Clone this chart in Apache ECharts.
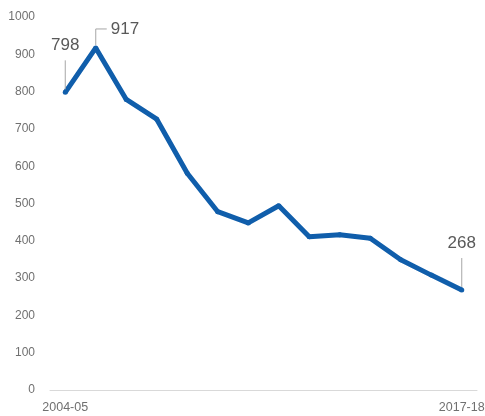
<!DOCTYPE html>
<html><head><meta charset="utf-8">
<script src="https://cdn.jsdelivr.net/npm/echarts@6/dist/echarts.min.js"></script>
<style>html,body{margin:0;padding:0;background:#fff}#c{width:485px;height:416px}</style>
</head><body><div id="c"></div>
<script>
var categories = ['2004-05','2005-06','2006-07','2007-08','2008-09','2009-10','2010-11','2011-12','2012-13','2013-14','2014-15','2015-16','2016-17','2017-18'];
var values = [798, 917, 779, 726, 581, 478, 448, 494, 411, 416, 407, 349, 308, 268];
var labeledIndex = [0, 1, 13];
var labelStyle = {0: 'above', 1: 'elbow', 13: 'above'};

var FONT = 'Liberation Sans, Arial, sans-serif';
var chart = echarts.init(document.getElementById('c'));
chart.setOption({
  animation: false,
  grid: {left: 50, right: 8, top: 17, bottom: 26, containLabel: false, outerBoundsMode: 'none'},
  xAxis: {
    type: 'category', data: categories, boundaryGap: true,
    axisLine: {lineStyle: {color: '#d9d9d9'}},
    axisTick: {show: false},
    axisLabel: {
      interval: function (i) { return i === 0 || i === categories.length - 1; },
      color: '#707070', fontSize: 12.5, margin: 11, fontFamily: FONT
    }
  },
  yAxis: {
    type: 'value', min: 0, max: 1000, interval: 100,
    axisLine: {show: false}, axisTick: {show: false},
    splitLine: {show: false},
    axisLabel: {color: '#707070', fontSize: 12, margin: 15, formatter: function (v) { return String(v); }, fontFamily: FONT}
  },
  series: [{
    type: 'line', data: values,
    lineStyle: {color: '#105eab', width: 5},
    itemStyle: {color: '#105eab'},
    symbol: 'circle', symbolSize: 5,
    showSymbol: true,
    z: 3
  }, {
    type: 'custom',
    data: labeledIndex.map(function (i) { return [i, values[i]]; }),
    z: 4,
    renderItem: function (params, api) {
      var idx = api.value(0), v = api.value(1);
      var p = api.coord([idx, v]);
      var kind = labelStyle[idx];
      var lineStyle = {stroke: '#a6a6a6', lineWidth: 1, fill: null};
      var textStyle = {text: String(v), fontSize: 17, fill: '#595959', fontFamily: FONT};
      if (kind === 'elbow') {
        var ty = p[1] - 19;
        return {type: 'group', children: [
          {type: 'polyline', shape: {points: [[p[0], p[1] - 3], [p[0], ty], [p[0] + 11, ty]]}, style: lineStyle},
          {type: 'text', x: p[0] + 15, y: ty, style: Object.assign({align: 'left', verticalAlign: 'middle'}, textStyle)}
        ]};
      }
      return {type: 'group', children: [
        {type: 'polyline', shape: {points: [[p[0], p[1] - 3], [p[0], p[1] - 32]]}, style: lineStyle},
        {type: 'text', x: p[0], y: p[1] - 47, style: Object.assign({align: 'center', verticalAlign: 'middle'}, textStyle)}
      ]};
    }
  }]
});
</script></body></html>
